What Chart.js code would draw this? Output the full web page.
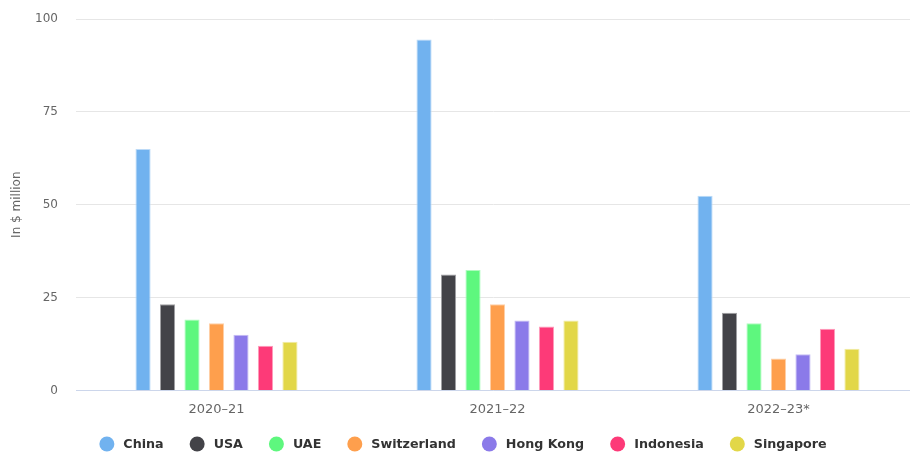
<!DOCTYPE html>
<html>
<head>
<meta charset="utf-8">
<script src="https://cdn.jsdelivr.net/npm/chart.js@4/dist/chart.umd.min.js"></script>
<style>
  html, body { margin: 0; padding: 0; background: #ffffff; }
  #wrap { width: 910px; height: 452px; position: relative; }
</style>
</head>
<body>
<div id="wrap"><canvas id="chart" width="910" height="452"></canvas></div>
<script>
// Fiscal years on the x axis
const years = ['2020–21', '2021–22', '2022–23*'];

// Values per destination, in $ million
const china       = [65.0, 94.5, 52.4];
const usa         = [23.2, 31.2, 20.9];
const uae         = [19.1, 32.4, 18.1];
const switzerland = [18.1, 23.2, 8.6];
const hongKong    = [15.0, 18.8, 9.7];
const indonesia   = [12.0, 17.2, 16.6];
const singapore   = [13.1, 18.8, 11.2];

const yTicks = [0, 25, 50, 75, 100];

const series = [
  { label: 'China',       data: china,       fill: '#71b2ef', edge: '#bcdaf7' },
  { label: 'USA',         data: usa,         fill: '#434348', edge: '#a1a1a4' },
  { label: 'UAE',         data: uae,         fill: '#5ef77e', edge: '#affbbe' },
  { label: 'Switzerland', data: switzerland, fill: '#fe9f4d', edge: '#ffcfa6' },
  { label: 'Hong Kong',   data: hongKong,    fill: '#8b7ae9', edge: '#c5bdf4' },
  { label: 'Indonesia',   data: indonesia,   fill: '#fd3a78', edge: '#fe9cbb' },
  { label: 'Singapore',   data: singapore,   fill: '#e2d748', edge: '#f0eba3' }
];

const FONT = "'DejaVu Sans', 'Open Sans', sans-serif";

// Let the plot area run a little past the right edge of the canvas
const widenPlot = {
  id: 'widenPlot',
  afterLayout(chart, _args, opts) {
    const area = chart.chartArea;
    const x = chart.scales.x;
    area.right += opts.extra;
    area.width = area.right - area.left;
    x.right += opts.extra;
    x.width = x.right - x.left;
    x.configure();
  }
};

// Bottom legend row: round swatch, label, evenly spaced and centred
const dotLegend = {
  id: 'dotLegend',
  afterDraw(chart, _args, opts) {
    const ctx = chart.ctx;
    const sets = chart.data.datasets;
    ctx.save();
    ctx.font = `bold ${opts.fontSize}px ${FONT}`;
    ctx.textBaseline = 'middle';
    ctx.textAlign = 'left';
    const widths = sets.map(d => ctx.measureText(d.label).width);
    const itemW = widths.map(w => opts.dot + opts.gap + w);
    const total = itemW.reduce((a, b) => a + b, 0) + opts.spacing * (sets.length - 1);
    let x = opts.centerX - total / 2;
    const y = opts.y;
    sets.forEach((d, i) => {
      ctx.beginPath();
      ctx.fillStyle = d.backgroundColor;
      ctx.arc(x + opts.dot / 2, y, opts.dot / 2, 0, Math.PI * 2);
      ctx.fill();
      ctx.fillStyle = opts.color;
      ctx.fillText(d.label, x + opts.dot + opts.gap, y + 0.5);
      x += itemW[i] + opts.spacing;
    });
    ctx.restore();
  }
};

new Chart(document.getElementById('chart'), {
  type: 'bar',
  data: {
    labels: years,
    datasets: series.map(s => ({
      label: s.label,
      data: s.data,
      backgroundColor: s.fill,
      borderColor: s.edge,
      borderWidth: 1,
      borderSkipped: 'bottom',
      categoryPercentage: 0.61,
      barPercentage: 0.62
    }))
  },
  plugins: [widenPlot, dotLegend],
  options: {
    responsive: false,
    animation: false,
    layout: { padding: { top: 0, right: 0, left: 0, bottom: 24 } },
    plugins: {
      legend: { display: false },
      tooltip: { enabled: false },
      widenPlot: { extra: 9 },
      dotLegend: {
        fontSize: 12.7,
        dot: 15,
        gap: 9,
        spacing: 26,
        centerX: 463,
        y: 444,
        color: '#333333'
      }
    },
    scales: {
      x: {
        grid: { display: false, drawTicks: false },
        border: { color: '#ccd6eb', width: 1 },
        ticks: { color: '#666666', font: { family: FONT, size: 13 }, padding: 11 }
      },
      y: {
        min: 0,
        max: 100,
        afterBuildTicks: axis => { axis.ticks = yTicks.map(v => ({ value: v })); },
        afterFit: axis => { axis.width = 76; axis.paddingTop = 19; },
        grid: { color: '#e6e6e6', drawTicks: false },
        border: { display: false },
        ticks: { color: '#666666', font: { family: FONT, size: 12 }, padding: 18 },
        title: {
          display: true,
          text: 'In $ million',
          color: '#666666',
          font: { family: FONT, size: 12 },
          padding: { top: 10, bottom: 0 }
        }
      }
    }
  }
});
</script>
</body>
</html>
